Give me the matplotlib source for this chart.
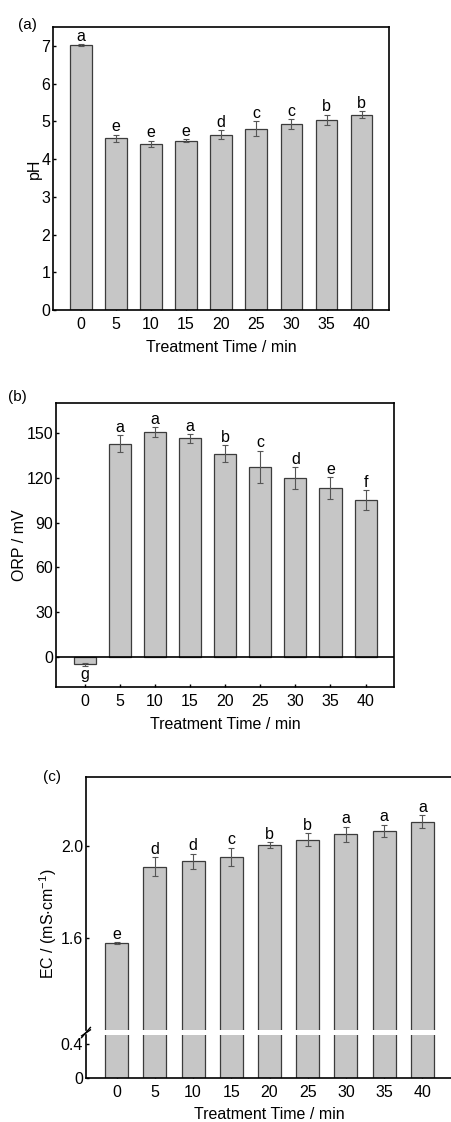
import numpy as np
import matplotlib
matplotlib.use("Agg")
import matplotlib.pyplot as plt

# Treatment times (min)
times = [0, 5, 10, 15, 20, 25, 30, 35, 40]

# pH
ph = [7.02, 4.55, 4.41, 4.48, 4.65, 4.80, 4.93, 5.04, 5.18]
ph_err = [0.02, 0.10, 0.08, 0.04, 0.11, 0.20, 0.12, 0.13, 0.09]
ph_letters = ["a", "e", "e", "e", "d", "c", "c", "b", "b"]

# Oxidation-reduction potential (mV)
orp = [-4.7, 142.8, 150.5, 146.3, 136.1, 127.1, 119.8, 113.1, 104.9]
orp_err = [1.0, 5.6, 3.3, 2.8, 5.8, 10.9, 7.2, 7.4, 6.7]
orp_letters = ["g", "a", "a", "a", "b", "c", "d", "e", "f"]

# Electrical conductivity (mS/cm)
ec = [1.578, 1.910, 1.933, 1.952, 2.004, 2.028, 2.051, 2.065, 2.105]
ec_err = [0.004, 0.042, 0.033, 0.041, 0.012, 0.028, 0.032, 0.028, 0.028]
ec_letters = ["e", "d", "d", "c", "b", "b", "a", "a", "a"]

plt.rcParams.update({
    "font.family": ["Liberation Sans", "DejaVu Sans"],
    "font.size": 11.5,
    "mathtext.fontset": "custom",
    "mathtext.rm": "Liberation Sans",
    "mathtext.default": "regular",
    "axes.linewidth": 1.2,
    "xtick.direction": "in",
    "ytick.direction": "in",
    "xtick.major.size": 2.5,
    "ytick.major.size": 2.5,
    "xtick.major.width": 1.0,
    "ytick.major.width": 1.0,
    "xtick.major.pad": 5,
    "ytick.major.pad": 2,
})

W, H = 451, 1122
fig = plt.figure(figsize=(W / 100, H / 100), dpi=100)

BAR_FC = "#c6c6c6"
BAR_EC = "#3c3c3c"
ERR_C = "#555555"
x = np.arange(len(times))


def rect(l, t, r, b):
    return [l / W, 1 - b / H, (r - l) / W, (b - t) / H]


def draw_bars(ax, vals, errs, width=0.62, with_err=True):
    ax.bar(x, vals, width=width, color=BAR_FC, edgecolor=BAR_EC, linewidth=0.9, zorder=2)
    if with_err:
        ax.errorbar(x, vals, yerr=errs, fmt="none", ecolor=ERR_C, elinewidth=0.8,
                    capsize=2.5, capthick=0.8, zorder=3)


def letters_above(ax, vals, errs, letters):
    for xi, v, e, s in zip(x, vals, errs, letters):
        if v >= 0:
            ax.annotate(s, (xi, v + e), xytext=(0, 2.5), textcoords="offset points",
                        ha="center", va="baseline", fontsize=11.5)
        else:
            ax.annotate(s, (xi, v - e), xytext=(0, -1), textcoords="offset points",
                        ha="center", va="top", fontsize=11.5)


def style_x(ax, xlim):
    ax.set_xlim(*xlim)
    ax.set_xticks(x)
    ax.set_xticklabels([str(t) for t in times])


# ---- (a) pH ----
ax1 = fig.add_axes(rect(53, 27, 389, 310))
draw_bars(ax1, ph, ph_err)
letters_above(ax1, ph, ph_err, ph_letters)
ax1.set_ylim(0, 7.5)
ax1.set_yticks(range(0, 8))
style_x(ax1, (-0.79, 8.78))
ax1.set_ylabel("pH", va="center")
ax1.yaxis.set_label_coords((34 - 53) / (389 - 53), 0.5)
ax1.set_xlabel("Treatment Time / min", labelpad=6)
fig.text(27 / W, 1 - 25 / H, "(a)", ha="center", va="center", fontsize=11)

# ---- (b) ORP ----
ax2 = fig.add_axes(rect(56, 403, 394, 687))
draw_bars(ax2, orp, orp_err, width=0.63)
letters_above(ax2, orp, orp_err, orp_letters)
ax2.axhline(0, color="black", linewidth=1.2, zorder=4)
ax2.set_ylim(-20, 170)
ax2.set_yticks(range(0, 151, 30))
style_x(ax2, (-0.82, 8.81))
ax2.set_ylabel("ORP / mV", va="center")
ax2.yaxis.set_label_coords((19 - 56) / (394 - 56), 0.5)
ax2.set_xlabel("Treatment Time / min", labelpad=6)
fig.text(17 / W, 1 - 397 / H, "(b)", ha="center", va="center", fontsize=11)

# ---- (c) EC with broken y axis ----
ax3 = fig.add_axes(rect(86, 777, 453, 1030))
ax4 = fig.add_axes(rect(86, 1035, 453, 1078))
draw_bars(ax3, ec, ec_err, width=0.6)
letters_above(ax3, ec, ec_err, ec_letters)
draw_bars(ax4, ec, ec_err, width=0.6, with_err=False)
ax3.set_ylim(1.2, 2.3)
ax3.set_yticks([1.6, 2.0])
ax3.set_yticklabels(["1.6", "2.0"])
ax4.set_ylim(0, 0.5)
ax4.set_yticks([0, 0.4])
ax4.set_yticklabels(["0", "0.4"])
for a in (ax3, ax4):
    style_x(a, (-0.80, 8.80))
ax3.spines["bottom"].set_visible(False)
ax3.tick_params(axis="x", bottom=False, labelbottom=False)
ax4.spines["top"].set_visible(False)
ax4.set_xlabel("Treatment Time / min", labelpad=5)

# break marks on the left spine
d = 0.012
kw = dict(color="black", linewidth=1.0, clip_on=False)
ax3.plot([-d, d], [-0.02 - 0.01, -0.02 + 0.03], transform=ax3.transAxes, **kw)
ax4.plot([-d, d], [1.0 - 0.02, 1.0 + 0.12], transform=ax4.transAxes, **kw)

fig.text(48 / W, 1 - 924 / H, r"EC / (mS$\cdot$cm$^{-1}$)", rotation=90,
         ha="center", va="center", fontsize=11.5)
fig.text(52 / W, 1 - 777 / H, "(c)", ha="center", va="center", fontsize=11)

fig.savefig("out.png", dpi=100, facecolor="white")
